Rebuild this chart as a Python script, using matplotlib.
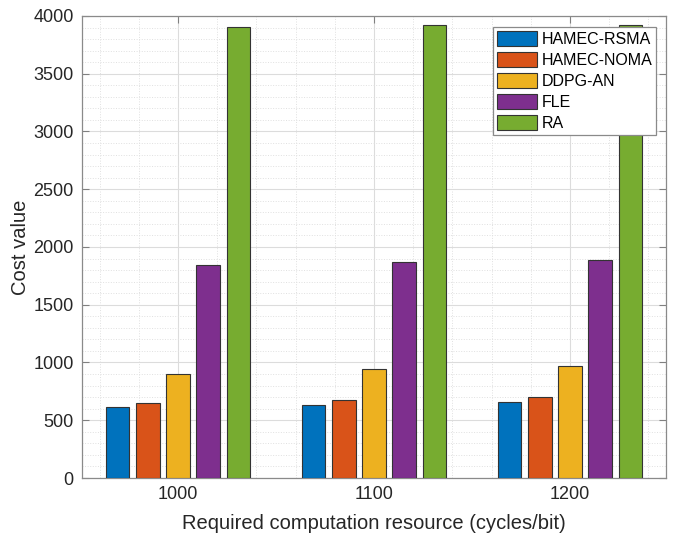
import numpy as np
import matplotlib
matplotlib.use("Agg")
import matplotlib.pyplot as plt
from matplotlib.ticker import MultipleLocator

# Data
resources = [1000, 1100, 1200]
methods = ['HAMEC-RSMA', 'HAMEC-NOMA', 'DDPG-AN', 'FLE', 'RA']
rsma = [612, 636, 661]
noma = [647, 673, 699]
ddpg = [898, 941, 972]
fle = [1842, 1868, 1890]
ra = [3902, 3919, 3925]

colors = ['#0072BD', '#D95319', '#EDB120', '#7E2F8E', '#77AC30']
series = [rsma, noma, ddpg, fle, ra]

plt.rcParams['font.family'] = ['Liberation Sans', 'DejaVu Sans']

fig = plt.figure(figsize=(6.73, 5.36), dpi=100)
ax = fig.add_axes([0.1218, 0.1082, 0.8678, 0.8620])

x = np.array(resources, dtype=float)
step = 15.4
width = 12.0
for i, (vals, c, name) in enumerate(zip(series, colors, methods)):
    ax.bar(x + (i - 2) * step, vals, width=width, color=c,
           edgecolor='#333333', linewidth=0.8, label=name, zorder=3)

ax.set_xlim(951, 1249)
ax.set_ylim(0, 4000)
ax.set_xticks(resources)
ax.set_yticks(np.arange(0, 4001, 500))
ax.xaxis.set_minor_locator(MultipleLocator(20))
ax.yaxis.set_minor_locator(MultipleLocator(100))

ax.grid(which='major', color='#dcdcdc', linewidth=0.8, zorder=0)
ax.grid(which='minor', color='#e0e0e0', linestyle=':', linewidth=0.7, zorder=0)
ax.set_axisbelow(True)

ax.tick_params(which='both', direction='in', top=True, right=True,
               colors='#262626', labelsize=13)
ax.tick_params(which='major', length=5, color='#808080')
ax.tick_params(which='minor', length=0)
ax.tick_params(axis='x', pad=6)
ax.tick_params(axis='y', pad=6)
for s in ax.spines.values():
    s.set_color('#8a8a8a')
    s.set_linewidth(0.9)

ax.set_xlabel('Required computation resource (cycles/bit)', fontsize=14.5, color='#262626', labelpad=8)
ax.set_ylabel('Cost value', fontsize=14.5, color='#262626', labelpad=2)

leg = ax.legend(loc='upper right', bbox_to_anchor=(0.983, 0.976), fontsize=11.5,
                fancybox=False, edgecolor='#8a8a8a', framealpha=1,
                handlelength=2.5, handleheight=1.1, handletextpad=0.25,
                labelspacing=0.3, borderpad=0.25, borderaxespad=0.0)
leg.get_frame().set_linewidth(0.9)

fig.savefig('out.png', dpi=100)
